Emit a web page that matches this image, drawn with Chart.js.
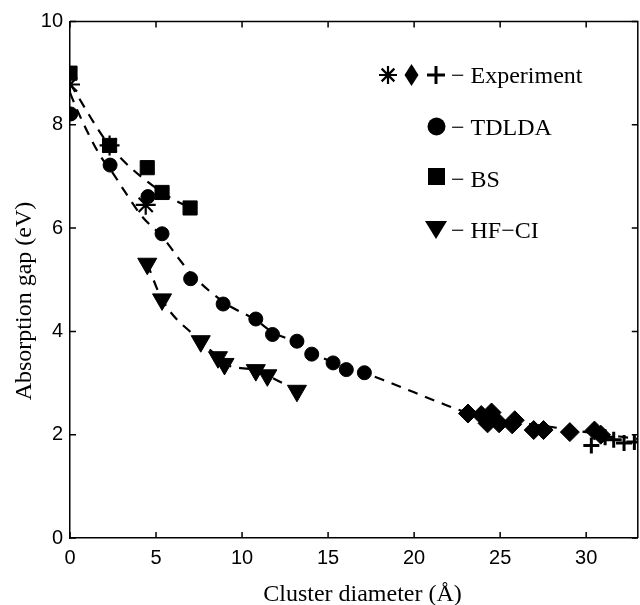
<!DOCTYPE html>
<html><head><meta charset="utf-8">
<script src="https://cdn.jsdelivr.net/npm/chart.js@4/dist/chart.umd.min.js"></script>
<style>
html,body{margin:0;padding:0;background:#fff;overflow:hidden;width:640px;height:605px}
#wrap{position:absolute;left:0;top:0;width:650px;height:605px}
canvas{display:block}
</style></head><body>
<div id="wrap"><canvas id="c" width="650" height="605"></canvas></div>
<script>
// ---- data ----
const xTickValues = [0,5,10,15,20,25,30];
const yTickValues = [0,2,4,6,8,10];

const expStarX = [0, 2.3, 4.4];
const expStarY = [8.78, 7.6, 6.45];
const expDiamondX = [23.13, 23.9, 24.27, 24.5, 24.94, 25.7, 25.85, 26.95, 27.52, 29.05, 30.48, 30.85];
const expDiamondY = [2.41, 2.38, 2.22, 2.43, 2.22, 2.20, 2.28, 2.09, 2.09, 2.05, 2.08, 2.00];
const expPlusX = [30.3, 31.1, 31.6, 32.2, 32.8];
const expPlusY = [1.79, 1.95, 1.90, 1.84, 1.86];

const tdldaX = [0.04, 2.33, 4.53, 5.35, 7.01, 8.9, 10.8, 11.77, 13.19, 14.05, 15.29, 16.06, 17.11];
const tdldaY = [8.21, 7.22, 6.61, 5.89, 5.02, 4.53, 4.24, 3.94, 3.81, 3.56, 3.39, 3.26, 3.20];

const bsX = [0, 2.3, 4.49, 5.35, 6.98];
const bsY = [9.0, 7.6, 7.17, 6.69, 6.39];

const hfciX = [4.49, 5.35, 7.6, 8.6, 8.98, 10.8, 11.47, 13.19];
const hfciY = [5.31, 4.62, 3.81, 3.50, 3.37, 3.25, 3.15, 2.85];

// dashed curves
const fitMainX = [0, 0.4, 1.2, 1.8, 2.5, 3.2, 4.2, 5.35, 6.3, 7.0, 9.0, 10.8, 11.8, 13.2, 14.0, 15.3, 17.1, 18.5, 20.0, 21.5, 23.0, 24.5, 26.0, 28.4, 30.0, 33.0];
const fitMainY = [8.62, 8.30, 7.74, 7.38, 7.06, 6.70, 6.22, 5.84, 5.42, 5.13, 4.55, 4.22, 3.98, 3.78, 3.60, 3.40, 3.20, 3.02, 2.82, 2.62, 2.44, 2.33, 2.24, 2.13, 2.05, 1.92];
const fitBsX = [0, 2.3, 5.35, 6.98];
const fitBsY = [8.8, 7.6, 6.69, 6.39];
const fitHfX = hfciX;
const fitHfY = hfciY;

const xTitle = 'Cluster diameter (Å)';
const yTitle = 'Absorption gap (eV)';
const legendLabels = ['− Experiment', '− TDLDA', '− BS', '− HF−CI'];

const pts = (xs, ys) => xs.map((x, i) => ({x: x, y: ys[i]}));

const lineDs = (xs, ys) => ({
  data: pts(xs, ys), showLine: true, pointRadius: 0, borderColor: '#000',
  borderWidth: 2.2, borderDash: [10, 8], fill: false, cubicInterpolationMode: 'monotone'
});
const markDs = (xs, ys, style, r, extra) => Object.assign({
  data: pts(xs, ys), showLine: false, pointStyle: style, pointRadius: r,
  backgroundColor: '#000', borderColor: '#000', borderWidth: 1
}, extra || {});

const SERIF = '"Liberation Serif", "Times New Roman", Times, serif';
const SANS = '"Liberation Sans", Arial, Helvetica, sans-serif';

const decor = {
  id: 'decor',
  afterDraw(chart) {
    const ctx = chart.ctx;
    const a = chart.chartArea;
    const xs = chart.scales.x, ys = chart.scales.y;
    ctx.save();
    ctx.strokeStyle = '#000';
    ctx.lineWidth = 1.5;
    ctx.beginPath();
    ctx.moveTo(a.left, a.top); ctx.lineTo(a.right, a.top); ctx.lineTo(a.right, a.bottom);
    ctx.stroke();
    const tl = 6;
    ctx.beginPath();
    xTickValues.forEach(v => {
      const px = xs.getPixelForValue(v);
      ctx.moveTo(px, a.bottom); ctx.lineTo(px, a.bottom - tl);
      ctx.moveTo(px, a.top); ctx.lineTo(px, a.top + tl);
    });
    yTickValues.forEach(v => {
      const py = ys.getPixelForValue(v);
      ctx.moveTo(a.left, py); ctx.lineTo(a.left + tl, py);
      ctx.moveTo(a.right, py); ctx.lineTo(a.right - tl, py);
    });
    ctx.stroke();

    ctx.fillStyle = '#000';
    ctx.font = '24px ' + SERIF;
    ctx.textAlign = 'center';
    ctx.textBaseline = 'alphabetic';
    ctx.fillText(xTitle, 362.5, 601);
    ctx.save();
    ctx.translate(31, 301);
    ctx.rotate(-Math.PI / 2);
    ctx.fillText(yTitle, 0, 0);
    ctx.restore();

    ctx.lineWidth = 2.2;
    const star = (x, y, r) => {
      ctx.beginPath();
      ctx.moveTo(x - r, y); ctx.lineTo(x + r, y);
      ctx.moveTo(x, y - r); ctx.lineTo(x, y + r);
      const d = r * Math.SQRT1_2;
      ctx.moveTo(x - d, y - d); ctx.lineTo(x + d, y + d);
      ctx.moveTo(x - d, y + d); ctx.lineTo(x + d, y - d);
      ctx.stroke();
    };
    star(388, 75, 9);
    ctx.beginPath();
    ctx.moveTo(411.5, 64); ctx.lineTo(418.5, 75); ctx.lineTo(411.5, 86); ctx.lineTo(404.5, 75); ctx.closePath();
    ctx.fill();
    ctx.lineWidth = 3;
    ctx.beginPath();
    ctx.moveTo(427, 75); ctx.lineTo(445, 75);
    ctx.moveTo(436, 66); ctx.lineTo(436, 84);
    ctx.stroke();
    ctx.beginPath(); ctx.arc(436.5, 126.5, 9, 0, Math.PI * 2); ctx.fill();
    ctx.fillRect(428, 168, 17, 17);
    ctx.beginPath();
    ctx.moveTo(425, 221); ctx.lineTo(447, 221); ctx.lineTo(436, 239); ctx.closePath(); ctx.fill();

    ctx.font = '24px ' + SERIF;
    ctx.textAlign = 'left';
    const rowsY = [83, 135, 186.5, 238];
    legendLabels.forEach((t, i) => ctx.fillText(t, 451, rowsY[i]));
    ctx.restore();
  }
};

Chart.defaults.font.family = SANS;
Chart.defaults.color = '#000';

new Chart(document.getElementById('c'), {
  type: 'scatter',
  data: {
    datasets: [
      lineDs(fitMainX, fitMainY),
      lineDs(fitBsX, fitBsY),
      lineDs(fitHfX, fitHfY),
      markDs(bsX, bsY, 'rect', 10),
      markDs(tdldaX, tdldaY, 'circle', 7),
      markDs(hfciX, hfciY, 'triangle', 11, {rotation: 180}),
      markDs(expDiamondX, expDiamondY, 'rectRot', 9.5),
      markDs(expStarX, expStarY, 'star', 10, {borderWidth: 2.2}),
      markDs(expPlusX, expPlusY, 'cross', 8, {borderWidth: 3})
    ]
  },
  options: {
    responsive: false,
    animation: false,
    devicePixelRatio: 1,
    events: [],
    layout: {padding: {left: 41, top: 21.5, right: 4.5, bottom: 35}},
    plugins: {legend: {display: false}, tooltip: {enabled: false}},
    scales: {
      x: {
        type: 'linear', min: 0, max: 33,
        grid: {display: false, drawTicks: false},
        border: {display: true, color: '#000', width: 1.5},
        ticks: {stepSize: 5, includeBounds: false, padding: 8, font: {size: 20, family: SANS}, color: '#000', maxRotation: 0},
        afterFit: s => { s.height = 32; }
      },
      y: {
        type: 'linear', min: 0, max: 10,
        grid: {display: false, drawTicks: false},
        border: {display: true, color: '#000', width: 1.5},
        ticks: {stepSize: 2, padding: 7, font: {size: 20, family: SANS}, color: '#000'},
        afterFit: s => { s.width = 29; }
      }
    }
  },
  plugins: [decor]
});
</script>
</body></html>
